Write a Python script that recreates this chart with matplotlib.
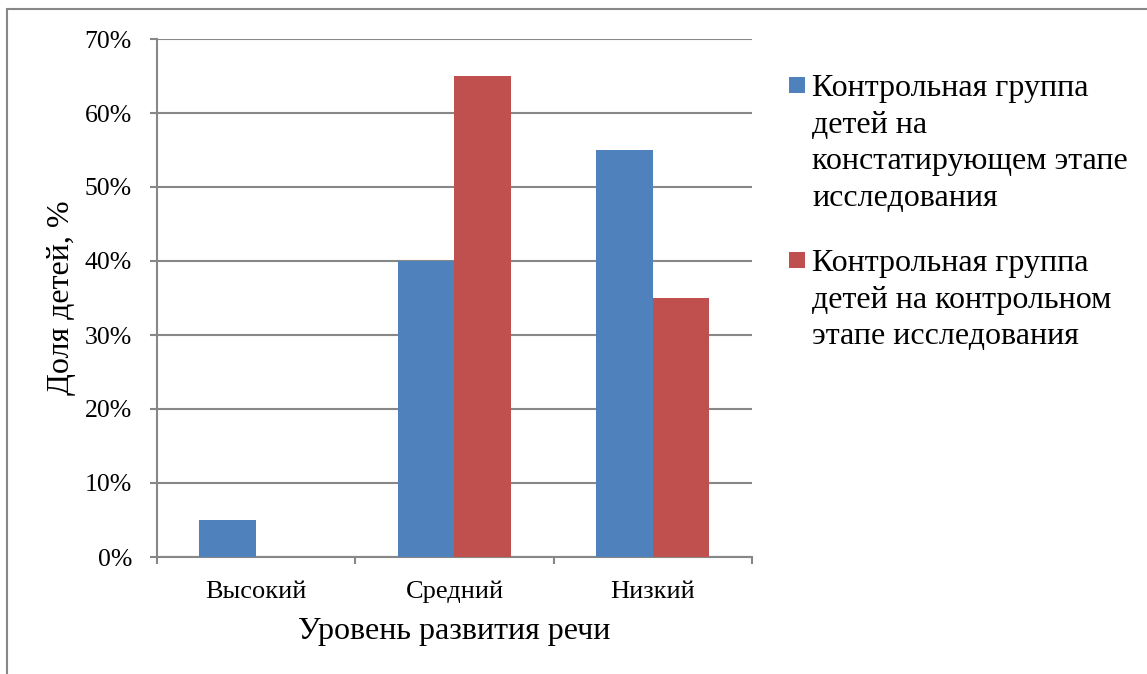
import numpy as np
import matplotlib.pyplot as plt
from matplotlib.patches import Rectangle

# data
categories = ['Высокий', 'Средний', 'Низкий']
series_names = ['Контрольная группа\nдетей на\nконстатирующем этапе\nисследования',
                'Контрольная группа\nдетей на контрольном\nэтапе исследования']
values_stage1 = [5, 40, 55]
values_stage2 = [0, 65, 35]
yticks = [0, 10, 20, 30, 40, 50, 60, 70]
colors = ['#4F81BD', '#C0504D']

plt.rcParams['font.family'] = ['Liberation Serif', 'DejaVu Serif']

fig = plt.figure(figsize=(11.47, 6.74), dpi=100)
ax = fig.add_axes([157 / 1147, 1 - 557 / 674, 595 / 1147, 518 / 674])

grid_col = '#878787'
x = np.arange(len(categories))
w = 1 / 3.5
ax.bar(x - w / 2, values_stage1, width=w, color=colors[0], zorder=3)
ax.bar(x + w / 2, values_stage2, width=w, color=colors[1], zorder=3)

ax.set_xlim(-0.5, len(categories) - 0.5)
ax.set_ylim(0, 70)
ax.set_yticks(yticks)
ax.set_yticklabels([f'{v}%' for v in yticks], fontsize=18.5)
ax.set_xticks(x)
ax.set_xticklabels(categories, fontsize=19)
ax.set_xticks(np.arange(-0.5, len(categories)), minor=True)
ax.tick_params(axis='x', which='major', length=0, pad=17)
ax.tick_params(axis='x', which='minor', length=5, width=1.5, color=grid_col, direction='out')
ax.tick_params(axis='y', length=5, width=1.5, color=grid_col, direction='out', pad=13)

ax.grid(True, axis='y', color=grid_col, linewidth=1.5, zorder=0)
for s in ['top', 'right']:
    ax.spines[s].set_visible(False)
for s in ['left', 'bottom']:
    ax.spines[s].set_color(grid_col)
    ax.spines[s].set_linewidth(1.5)

ax.set_xlabel('Уровень развития речи', fontsize=23, labelpad=10)
ax.set_ylabel('Доля детей, %', fontsize=23, labelpad=6)

# legend drawn by hand so the square sits on the first line
leg_y = [93 / 674, 268 / 674]
for name, col, yb in zip(series_names, colors, leg_y):
    fig.patches.append(Rectangle((789 / 1147, 1 - yb), 16 / 1147, 16 / 674,
                                 transform=fig.transFigure, facecolor=col,
                                 edgecolor='none'))
    fig.text(812 / 1147, 1 - yb + 19 / 674, name, fontsize=23, va='top',
             ha='left', linespacing=1.35)

# outer frame
fig.patches.append(Rectangle((7 / 1147, -0.1), 1.2, 1 - 9 / 674 + 0.1,
                             transform=fig.transFigure, facecolor='none',
                             edgecolor=grid_col, linewidth=1.5))

fig.savefig('out.png', dpi=100)
